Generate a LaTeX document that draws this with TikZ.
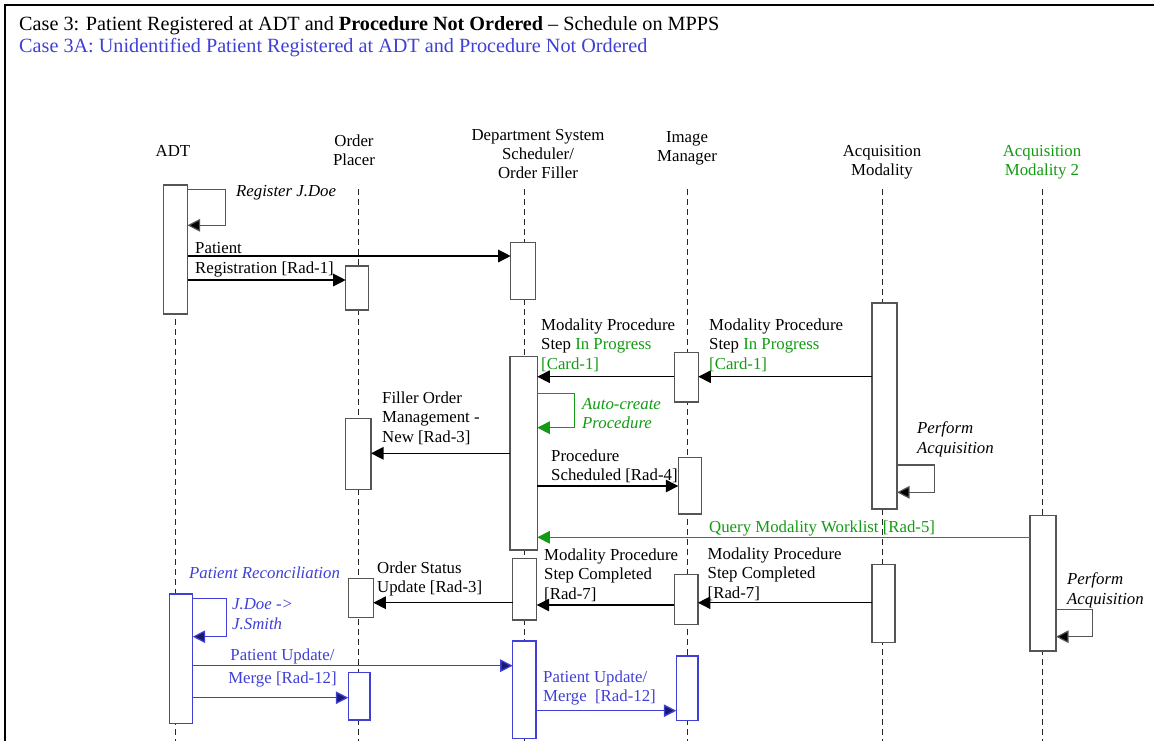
\documentclass[tikz,border=0pt]{standalone}
\usepackage{fontspec}
\setmainfont{Liberation Serif}
\usetikzlibrary{arrows.meta}
\definecolor{blu}{RGB}{64,64,215}
\definecolor{grn}{RGB}{20,155,20}
\definecolor{boxc}{RGB}{85,85,85}
\definecolor{navytip}{RGB}{25,25,110}
\begin{document}
\begin{tikzpicture}[x=1pt,y=-1pt,
  act/.style={draw=boxc, fill=white, line width=1.2pt, inner sep=0pt, outer sep=0pt, anchor=north west},
  actb/.style={act, draw=blu},
  life/.style={draw=black!85, line width=1pt, dash pattern=on 6pt off 4pt},
  msg/.style={draw=black, line width=1.3pt, -{Triangle[length=12.5pt,width=12.5pt]}},
  msgg/.style={draw=grn, line width=1.3pt, -{Triangle[length=12.5pt,width=12.5pt,fill=grn]}},
  msgb/.style={draw=blu, line width=1.3pt, -{Triangle[length=12.5pt,width=12.5pt,fill=navytip]}},
  selfloop/.style={draw=boxc, line width=1.2pt, -{Triangle[length=12.5pt,width=12.5pt,fill=black]}},
  selfloopg/.style={draw=grn, line width=1.2pt, -{Triangle[length=12.5pt,width=12.5pt,fill=grn]}},
  selfloopb/.style={draw=blu, line width=1.2pt, -{Triangle[length=12.5pt,width=12.5pt,fill=navytip]}},
  lbl/.style={anchor=base west, align=left, inner sep=0pt, font=\fontsize{16.8}{19.8}\selectfont},
  hdr/.style={anchor=base, align=center, inner sep=0pt, font=\fontsize{16.8}{19.4}\selectfont},
  ttl/.style={anchor=base west, inner sep=0pt, font=\fontsize{20.2}{24}\selectfont}
]
\useasboundingbox (0,0) rectangle (1154,740);
\fill[white] (0,0) rectangle (1154,740);
% frame
\draw[line width=2pt] (5.3,741) -- (5.3,5.3) -- (1155,5.3);

% titles
\node[ttl] (t1) at (19,30) {Case 3: Patient Registered at ADT and \textbf{Procedure Not Ordered} – Schedule on MPPS};
\node[ttl, text=blu] (t2) at (19,52) {Case 3A: Unidentified Patient Registered at ADT and Procedure Not Ordered};

% headers (anchor = baseline of last line)
\node[hdr] (hADT) at (173,156) {ADT};
\node[hdr] (hOP) at (354,165.4) {Order\\Placer};
\node[hdr] (hDSS) at (538,178.8) {Department System\\Scheduler/\\Order Filler};
\node[hdr] (hIM) at (687,161.4) {Image\\Manager};
\node[hdr] (hAM) at (882,175.4) {Acquisition\\Modality};
\node[hdr, text=grn] (hAM2) at (1042,175.4) {Acquisition\\Modality 2};

% lifelines
\coordinate (lADTt) at (175,189);  \coordinate (lADTb) at (175,745);
\coordinate (lOPt) at (358,189);   \coordinate (lOPb) at (358,745);
\coordinate (lDSSt) at (524,189);  \coordinate (lDSSb) at (524,745);
\coordinate (lIMt) at (687,189);   \coordinate (lIMb) at (687,745);
\coordinate (lAMt) at (882,189);   \coordinate (lAMb) at (882,745);
\coordinate (lAM2t) at (1042,189); \coordinate (lAM2b) at (1042,745);
\draw[life] (lADTt) -- (lADTb);
\draw[life] (lOPt) -- (lOPb);
\draw[life] (lDSSt) -- (lDSSb);
\draw[life] (lIMt) -- (lIMb);
\draw[life] (lAMt) -- (lAMb);
\draw[life] (lAM2t) -- (lAM2b);

% activation boxes
\node[act, minimum width=24pt, minimum height=129pt] (adtA) at (163.5,185) {};
\node[actb, minimum width=23.4pt, minimum height=129.3pt] (adtB) at (169.3,594) {};
\node[act, minimum width=22.6pt, minimum height=44pt] (opA) at (345.7,266) {};
\node[act, minimum width=25.3pt, minimum height=71pt] (opB) at (345.7,418.3) {};
\node[act, minimum width=25pt, minimum height=39.4pt] (opC) at (348.3,578.3) {};
\node[actb, minimum width=21.7pt, minimum height=47.3pt] (opD) at (348.3,672.7) {};
\node[act, minimum width=25pt, minimum height=57pt] (dssA) at (510.7,242.3) {};
\node[act, minimum width=27.3pt, minimum height=193.3pt] (dssB) at (510,356.7) {};
\node[act, minimum width=24pt, minimum height=61.7pt] (dssC) at (512.7,558.3) {};
\node[actb, minimum width=23.3pt, minimum height=97.3pt] (dssD) at (512.7,641) {};
\node[act, minimum width=24pt, minimum height=49.7pt] (imA) at (674.3,352.3) {};
\node[act, minimum width=23.4pt, minimum height=56.7pt] (imB) at (678.3,457.3) {};
\node[act, minimum width=23.7pt, minimum height=50pt] (imC) at (674.2,574.3) {};
\node[actb, minimum width=21.6pt, minimum height=64.7pt] (imD) at (676.3,656) {};
\node[act, minimum width=25pt, minimum height=206pt] (amA) at (872,303) {};
\node[act, minimum width=23pt, minimum height=78.4pt] (amB) at (872,564.3) {};
\node[act, minimum width=26pt, minimum height=135.3pt] (am2A) at (1030,515.7) {};

% messages
\draw[selfloop] (adtA.east |- 0,189.3) -| (225.3,225.3) -- (adtA.east |- 0,225.3);
\draw[msg] (adtA.east |- 0,256) -- (dssA.west |- 0,256);
\draw[msg] (adtA.east |- 0,280) -- (opA.west |- 0,280);
\draw[msg] (amA.west |- 0,376.7) -- (imA.east |- 0,376.7);
\draw[msg] (imA.west |- 0,376.7) -- (dssB.east |- 0,376.7);
\draw[selfloopg] (dssB.east |- 0,393.3) -| (574.3,427.7) -- (dssB.east |- 0,427.7);
\draw[msg] (dssB.west |- 0,453.3) -- (opB.east |- 0,453.3);
\draw[msg] (dssB.east |- 0,486) -- (imB.west |- 0,486);
\draw[selfloop] (amA.east |- 0,465) -| (934.3,492.3) -- (amA.east |- 0,492.3);
\draw[msgg] (am2A.west |- 0,537.3) -- (dssB.east |- 0,537.3);
\draw[msg] (amB.west |- 0,602.7) -- (imC.east |- 0,602.7);
\draw[msg] (imC.west |- 0,605) -- (dssC.east |- 0,605);
\draw[msg] (dssC.west |- 0,602.7) -- (opC.east |- 0,602.7);
\draw[selfloop] (am2A.east |- 0,609.3) -| (1092.3,636.7) -- (am2A.east |- 0,636.7);
\draw[selfloopb] (adtB.east |- 0,598.3) -| (226.7,636.7) -- (adtB.east |- 0,636.7);
\draw[msgb] (adtB.east |- 0,665.7) -- (dssD.west |- 0,665.7);
\draw[msgb] (adtB.east |- 0,697.7) -- (opD.west |- 0,697.7);
\draw[msgb] (dssD.east |- 0,710.7) -- (imD.west |- 0,710.7);

% labels (anchor = baseline of last line)
\node[lbl, font=\fontsize{16.8}{19.8}\selectfont\itshape] (lReg) at (236,196) {Register J.Doe};
\node[lbl] (lPR) at (195,273) {Patient\\Registration [Rad-1]};
\node[lbl] (lIP1) at (541,369.6) {Modality Procedure\\Step \textcolor{grn}{In Progress}\\\textcolor{grn}{[Card-1]}};
\node[lbl] (lIP2) at (709,369.6) {Modality Procedure\\Step \textcolor{grn}{In Progress}\\\textcolor{grn}{[Card-1]}};
\node[lbl, text=grn, font=\fontsize{16.8}{19.8}\selectfont\itshape] (lAuto) at (582,428.8) {Auto-create\\Procedure};
\node[lbl] (lFOM) at (382,442.6) {Filler Order\\Management -\\New [Rad-3]};
\node[lbl] (lPS) at (551,480.8) {Procedure\\Scheduled [Rad-4]};
\node[lbl, font=\fontsize{16.8}{20.5}\selectfont\itshape] (lPA1) at (917,453.5) {Perform\\Acquisition};
\node[lbl, text=grn] (lQ) at (709,532) {Query Modality Worklist [Rad-5]};
\node[lbl, text=blu, font=\fontsize{16.8}{19.8}\selectfont\itshape] (lRec) at (189,578) {Patient Reconciliation};
\node[lbl, text=blu, font=\fontsize{16.8}{20.5}\selectfont\itshape] (lJD) at (232,629.5) {J.Doe ->\\J.Smith};
\node[lbl] (lOS) at (377,592.8) {Order Status\\Update [Rad-3]};
\node[lbl] (lSC1) at (544,599.6) {Modality Procedure\\Step Completed\\{[Rad-7]}};
\node[lbl] (lSC2) at (707.5,598.6) {Modality Procedure\\Step Completed\\{[Rad-7]}};
\node[lbl, text=blu, align=center, anchor=base] (lPU1) at (282.5,683.8) {Patient Update/\\[4pt]Merge [Rad-12]};
\node[lbl, text=blu] (lPU2) at (543,701.8) {Patient Update/\\Merge~ [Rad-12]};
\node[lbl, font=\fontsize{16.8}{20}\selectfont\itshape] (lPA2) at (1067,604) {Perform\\Acquisition};
\end{tikzpicture}
\end{document}
